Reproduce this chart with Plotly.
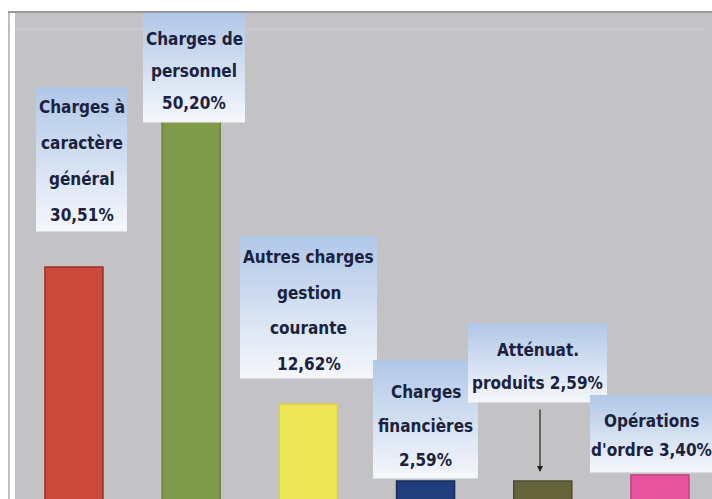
import plotly.graph_objects as go

# ---- data ----
categories = ["Charges à caractère général", "Charges de personnel",
              "Autres charges gestion courante", "Charges financières",
              "Atténuat. produits", "Opérations d'ordre"]
values = [30.51, 50.20, 12.62, 2.59, 2.59, 3.40]
value_labels = ["30,51%", "50,20%", "12,62%", "2,59%", "2,59%", "3,40%"]
label_lines = [
    ["Charges à", "caractère", "général", "30,51%"],
    ["Charges de", "personnel", "50,20%"],
    ["Autres charges", "gestion", "courante", "12,62%"],
    ["Charges", "financières", "2,59%"],
    ["Atténuat.", "produits 2,59%"],
    ["Opérations", "d'ordre 3,40%"],
]
bar_colors = ["#cc4a3c", "#7f9b4a", "#eee655", "#223d7c", "#66643a", "#e8559c"]
edge_colors = ["#9a2e24", "#6a823c", "#d8d040", "#182c5c", "#4e4c2a", "#c83c80"]

# ---- geometry helpers (pixel -> paper) ----
L, R, T, B = 15, 712, 13, 499
W, H = R - L, B - T
def px(x): return (x - L) / W
def py(y): return (B - y) / H

fig = go.Figure()
fig.add_trace(go.Bar(
    x=list(range(len(categories))), y=values,
    hovertext=categories, width=0.495,
    marker=dict(color=bar_colors, line=dict(color=edge_colors, width=1.5)),
    showlegend=False,
))

shapes = []
annotations = []

# frame lines
shapes.append(dict(type="line", xref="paper", yref="paper",
                   x0=px(9), x1=px(9), y0=py(12), y1=py(499),
                   line=dict(color="#a8a8a8", width=1.5)))
shapes.append(dict(type="line", xref="paper", yref="paper",
                   x0=px(8), x1=px(712), y0=py(12), y1=py(12),
                   line=dict(color="#999999", width=2)))
shapes.append(dict(type="line", xref="paper", yref="paper",
                   x0=px(15), x1=px(705), y0=py(29), y1=py(29),
                   line=dict(color="#d0d0d2", width=1)))

# label boxes: (left, right, top, bottom, first line center, spacing)
boxes = [
    (36, 127, 87, 231, 107, 36),
    (143, 245, 13, 122, 39, 32),
    (240, 377, 236, 378, 257, 35.5),
    (373, 478, 360, 478, 392, 34),
    (468, 607, 323, 402, 350, 33),
    (590, 712, 395, 472, 421, 29),
]
top_c = (178, 200, 232)
bot_c = (243, 246, 251)
n_strips = 24
font = dict(family="Liberation Sans Narrow, DejaVu Sans Condensed, Liberation Sans, sans-serif",
            size=17, color="#1b2240")

for (l, r, t, b, c0, sp), lines in zip(boxes, label_lines):
    h = (b - t) / n_strips
    for i in range(n_strips):
        f = i / (n_strips - 1)
        col = tuple(round(top_c[k] + (bot_c[k] - top_c[k]) * f) for k in range(3))
        shapes.append(dict(type="rect", xref="paper", yref="paper",
                           x0=px(l), x1=px(r), y0=py(t + (i + 1) * h + 0.5), y1=py(t + i * h),
                           line=dict(width=0), fillcolor="rgb(%d,%d,%d)" % col, layer="above"))
    for j, txt in enumerate(lines):
        annotations.append(dict(xref="paper", yref="paper",
                                x=px((l + r) / 2), y=py(c0 + j * sp),
                                text="<b>%s</b>" % txt, showarrow=False,
                                xanchor="center", yanchor="middle", font=font))

# arrow for "Atténuat. produits"
annotations.append(dict(xref="paper", yref="paper", x=px(540), y=py(472),
                        text="", showarrow=True, arrowhead=2, arrowsize=1,
                        arrowwidth=1.2, arrowcolor="#222222",
                        ax=0, ay=-64, axref="pixel", ayref="pixel"))

fig.update_layout(
    width=712, height=499,
    margin=dict(l=L, r=0, t=T, b=0),
    paper_bgcolor="white", plot_bgcolor="#c3c3c5",
    shapes=shapes, annotations=annotations,
    xaxis=dict(range=[-0.503, 5.444], showticklabels=False, showgrid=False,
               zeroline=False, showline=False, ticks=""),
    yaxis=dict(range=[0.26, 63.6], showticklabels=False, showgrid=False,
               zeroline=False, showline=False, ticks=""),
    bargap=0.5,
)

fig.write_html("out.html")
